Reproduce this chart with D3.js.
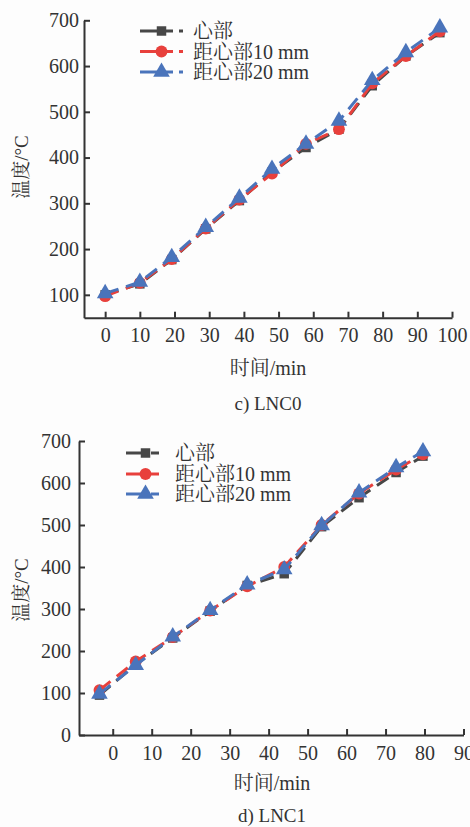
<!DOCTYPE html>
<html>
<head>
<meta charset="utf-8">
<script src="https://cdn.jsdelivr.net/npm/d3@7"></script>
<style>
  body { margin: 0; background: #fdfdfd; }
  svg text { font-family: "Liberation Serif", "Noto Serif CJK SC", "Noto Sans CJK SC", serif; fill: #333; }
</style>
</head>
<body>
<svg id="chart" width="470" height="827"></svg>
<script>
// chart c) LNC0
var timeC = [0, 10, 19.2, 29, 38.7, 48.1, 57.9, 67.4, 77, 86.7, 96.5]
var coreC = [100, 124, 177, 244, 306, 368, 422, 462, 557, 622, 673]
var mm10C = [97, 126, 178, 245, 308, 365, 430, 462, 562, 622, 676]
var mm20C = [103, 128, 182, 248, 312, 375, 430, 480, 569, 630, 684]
var xTicksC = [0, 10, 20, 30, 40, 50, 60, 70, 80, 90, 100]
var yTicksC = [100, 200, 300, 400, 500, 600, 700]

// chart d) LNC1
var timeD = [-3.4, 5.9, 15.4, 25, 34.5, 44, 53.6, 63.2, 72.7, 79.6]
var coreD = [95, 168, 231, 295, 356, 384, 496, 565, 625, 664]
var mm10D = [107, 175, 233, 296, 354, 400, 500, 575, 632, 668]
var mm20D = [98, 166, 234, 297, 358, 394, 499, 577, 637, 675]
var xTicksD = [0, 10, 20, 30, 40, 50, 60, 70, 80, 90]
var yTicksD = [0, 100, 200, 300, 400, 500, 600, 700]

var seriesNames = ['心部', '距心部10 mm', '距心部20 mm']
var colors = ['#474747', '#e8403c', '#4a74bb']
var shapes = [d3.symbolSquare, d3.symbolCircle, d3.symbolTriangle]
var shapeSizes = [90, 110, 120]

var svg = d3.select('#chart')

function draw(opt) {
    var x = d3.scaleLinear().domain(opt.xDomain).range(opt.xRange)
    var y = d3.scaleLinear().domain(opt.yDomain).range(opt.yRange)
    var g = svg.append('g')

    var xAxis = g.append('g')
        .attr('transform', 'translate(0,' + opt.yRange[0] + ')')
        .call(d3.axisBottom(x).tickValues(opt.xTicks).tickSizeInner(-6).tickSizeOuter(0).tickPadding(opt.xPad))
    var yAxis = g.append('g')
        .attr('transform', 'translate(' + opt.xRange[0] + ',0)')
        .call(d3.axisLeft(y).tickValues(opt.yTicks).tickSizeInner(-6).tickSizeOuter(0).tickPadding(opt.yPad))

    ;[xAxis, yAxis].forEach(function(a) {
        a.selectAll('path, line').attr('stroke', '#333').attr('stroke-width', 2)
        a.selectAll('text').attr('font-size', 20).style('fill', '#333')
    })

    var line = d3.line()
        .x(function(d) { return x(d[0]) })
        .y(function(d) { return y(d[1]) })

    opt.series.forEach(function(vals, i) {
        var pts = opt.time.map(function(t, j) { return [t, vals[j]] })
        g.append('path')
            .datum(pts)
            .attr('fill', 'none')
            .attr('stroke', colors[i])
            .attr('stroke-width', 3)
            .attr('stroke-dasharray', '14,8')
            .attr('d', line)
        g.selectAll('.m' + i)
            .data(pts)
            .enter().append('path')
            .attr('transform', function(d) { return 'translate(' + x(d[0]) + ',' + y(d[1]) + ')' })
            .attr('d', d3.symbol().type(shapes[i]).size(shapeSizes[i]))
            .attr('fill', colors[i])
    })

    // legend
    var lg = g.append('g')
    seriesNames.forEach(function(name, i) {
        var ly = opt.legendY[i]
        lg.append('line')
            .attr('x1', opt.legendX[0]).attr('x2', opt.legendX[1])
            .attr('y1', ly).attr('y2', ly)
            .attr('stroke', colors[i]).attr('stroke-width', 3)
            .attr('stroke-dasharray', '21,4,8,6')
        lg.append('path')
            .attr('transform', 'translate(' + (opt.legendX[0] + opt.legendX[1]) / 2 + ',' + ly + ')')
            .attr('d', d3.symbol().type(shapes[i]).size(shapeSizes[i]))
            .attr('fill', colors[i])
        lg.append('text')
            .attr('x', opt.legendX[1] + 10)
            .attr('y', ly + 7)
            .attr('font-size', 20)
            .text(name)
    })

    g.append('text')
        .attr('transform', 'translate(' + opt.yTitle[0] + ',' + opt.yTitle[1] + ') rotate(-90)')
        .attr('text-anchor', 'middle')
        .attr('font-size', 19)
        .text('温度/°C')

    g.append('text')
        .attr('x', opt.xTitle[0]).attr('y', opt.xTitle[1])
        .attr('text-anchor', 'middle')
        .attr('font-size', 20)
        .text('时间/min')

    g.append('text')
        .attr('x', opt.caption[0]).attr('y', opt.caption[1])
        .attr('text-anchor', 'middle')
        .attr('font-size', 19)
        .text(opt.captionText)
}

draw({
    time: timeC,
    series: [coreC, mm10C, mm20C],
    xDomain: [-6.1, 100], xRange: [84, 452],
    yDomain: [50, 700], yRange: [317.7, 20.3],
    xTicks: xTicksC, yTicks: yTicksC,
    xPad: 10, yPad: 5,
    legendX: [140, 183], legendY: [31, 51.5, 72],
    yTitle: [28, 167], xTitle: [268, 375], caption: [268, 410],
    captionText: 'c) LNC0'
})

draw({
    time: timeD,
    series: [coreD, mm10D, mm20D],
    xDomain: [-8.65, 90], xRange: [79, 463.5],
    yDomain: [0, 700], yRange: [735, 441],
    xTicks: xTicksD, yTicks: yTicksD,
    xPad: 11, yPad: 8,
    legendX: [126, 165], legendY: [453, 474, 494],
    yTitle: [28, 590], xTitle: [272, 790], caption: [272, 822],
    captionText: 'd) LNC1'
})
</script>
</body>
</html>
